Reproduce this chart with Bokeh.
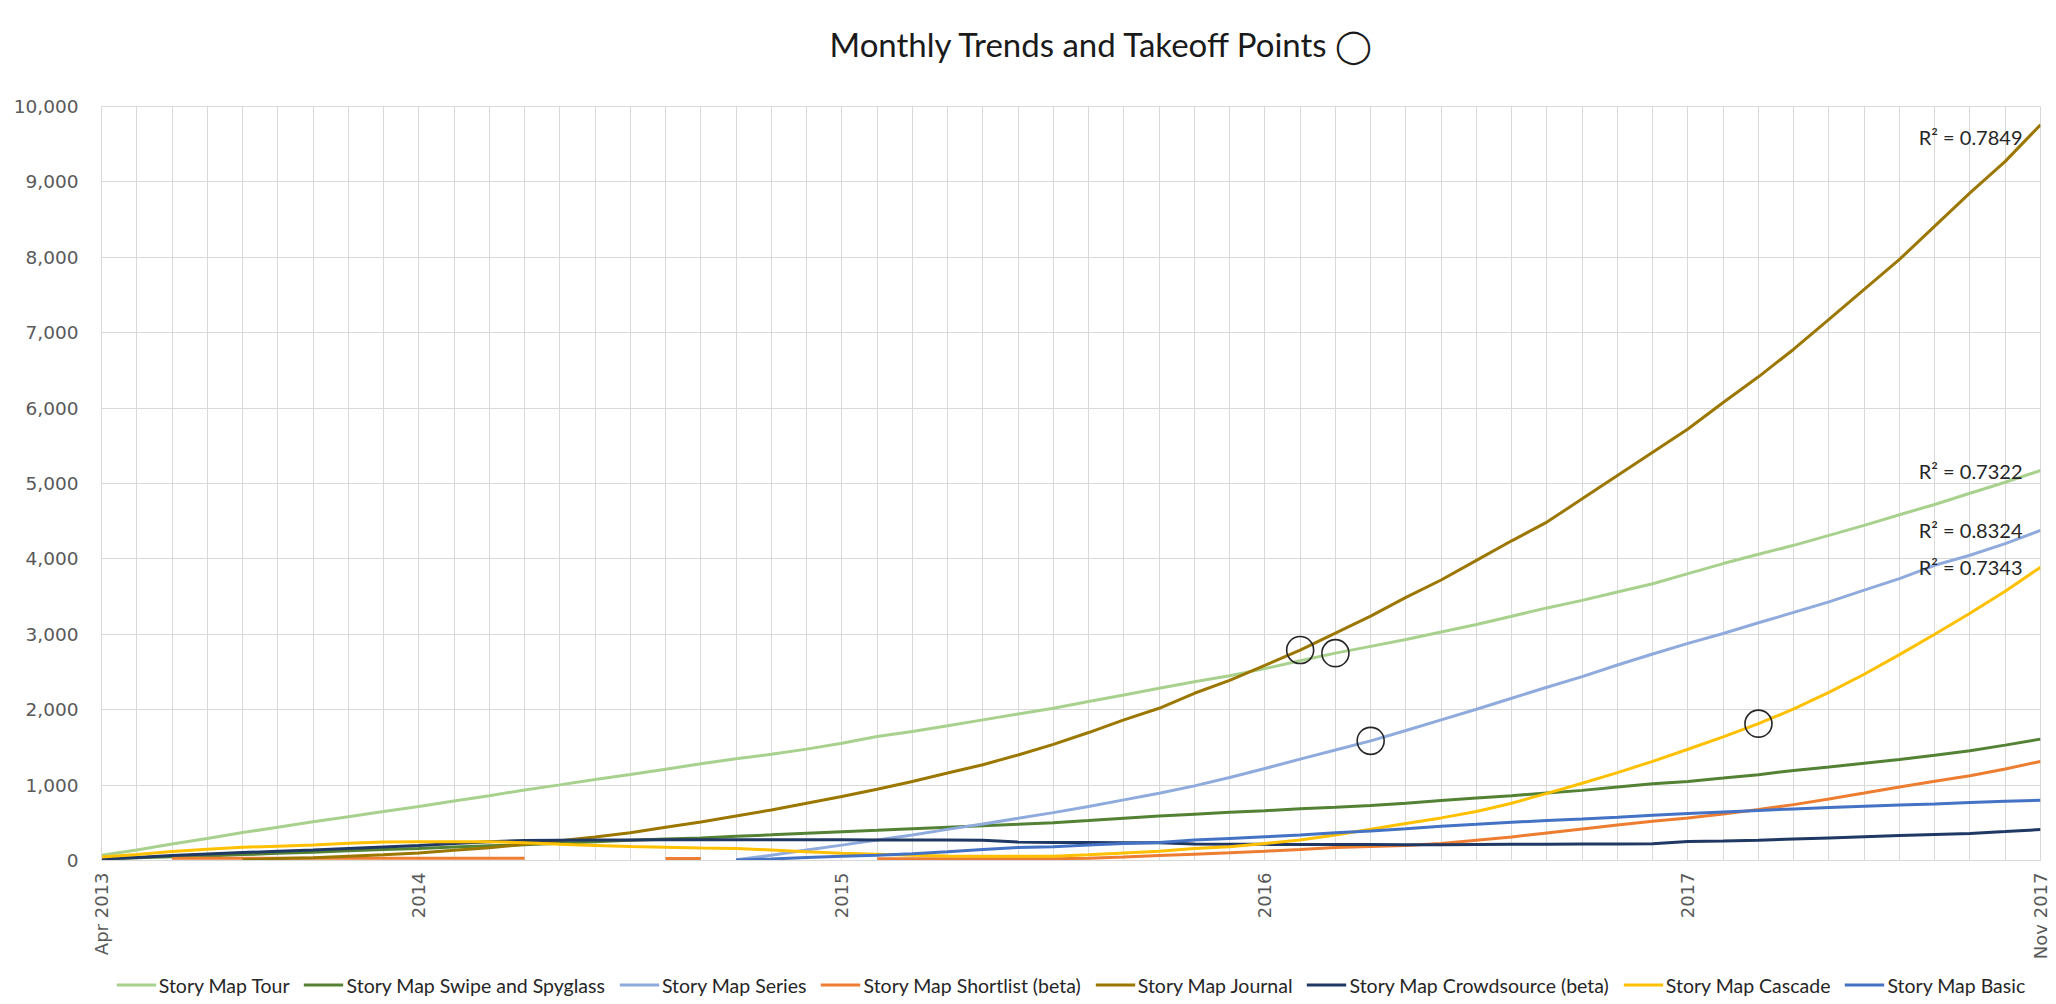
import math
import numpy as np
from bokeh.plotting import figure
from bokeh.layouts import column
from bokeh.models import Range1d, FixedTicker, NumeralTickFormatter, Legend, LegendItem, Title
from bokeh.core.properties import value
from bokeh.embed import file_html
from bokeh.resources import INLINE

# month index: 0 = Apr 2013 ... 55 = Nov 2017
months = list(range(56))
tick_months = [0, 9, 21, 33, 45, 55]
tick_labels = ["Apr 2013", "2014", "2015", "2016", "2017", "Nov 2017"]
y_ticks = [0, 1000, 2000, 3000, 4000, 5000, 6000, 7000, 8000, 9000, 10000]

tour = [70, 140, 220, 293, 370, 440, 515, 580, 650, 715,
        790, 860, 935, 1003, 1075, 1140, 1210, 1283, 1349, 1410,
        1477, 1556, 1644, 1710, 1786, 1865, 1944, 2019, 2108, 2196,
        2284, 2372, 2450, 2545, 2650, 2750, 2840, 2930, 3030, 3130,
        3240, 3350, 3450, 3560, 3670, 3805, 3938, 4061, 4180, 4312,
        4444, 4586, 4722, 4871, 5017, 5172]

swipe = [20, 35, 50, 60, 78, 95, 110, 128, 145, 160,
         178, 195, 210, 230, 250, 270, 285, 300, 320, 340,
         362, 382, 400, 420, 440, 460, 480, 502, 530, 560,
         590, 615, 640, 660, 685, 705, 730, 760, 795, 830,
         860, 895, 930, 974, 1018, 1049, 1093, 1138, 1195, 1240,
         1290, 1340, 1395, 1455, 1530, 1610]

series = [None, None, None, None, None, None, None, None, None, None,
          None, None, None, None, None, None, None, None, 10, 70,
          138, 204, 271, 337, 413, 484, 559, 635, 715, 804,
          892, 990, 1100, 1220, 1345, 1465, 1587, 1724, 1865, 2006,
          2152, 2297, 2438, 2593, 2738, 2879, 3011, 3153, 3290, 3430,
          3585, 3739, 3915, 4048, 4202, 4378]

shortlist = [None, None, 30, 30, 30, 30, 30, 30, 30, 30,
             30, 30, 30, None, None, None, 25, 25, None, None,
             None, None, 22, 22, 22, 22, 22, 22, 30, 45,
             65, 84, 102, 124, 147, 173, 186, 200, 225, 270,
             313, 366, 419, 472, 520, 564, 617, 675, 741, 816,
             895, 975, 1050, 1125, 1213, 1314]

journal = [None, None, None, None, 10, 25, 35, 55, 75, 100,
           135, 170, 215, 262, 312, 368, 440, 510, 590, 670,
           759, 848, 946, 1048, 1160, 1270, 1400, 1540, 1697, 1865,
           2019, 2218, 2390, 2588, 2791, 3016, 3241, 3490, 3720, 3980,
           4240, 4488, 4797, 5106, 5414, 5723, 6075, 6415, 6781, 7178,
           7575, 7972, 8413, 8854, 9272, 9758]

crowdsource = [20, 40, 65, 85, 105, 122, 140, 160, 180, 200,
               225, 250, 265, 270, 272, 273, 275, 275, 275, 275,
               275, 275, 273, 272, 272, 270, 244, 240, 238, 236,
               235, 218, 215, 214, 213, 212, 212, 210, 210, 212,
               214, 216, 218, 220, 222, 251, 258, 269, 285, 300,
               315, 331, 344, 357, 383, 410]

cascade = [45, 80, 120, 150, 175, 190, 205, 230, 245, 250,
           250, 250, 235, 215, 200, 185, 175, 165, 160, 140,
           115, 95, 84, 70, 60, 55, 55, 58, 75, 100,
           124, 160, 182, 226, 271, 337, 415, 490, 565, 650,
           760, 890, 1025, 1165, 1315, 1475, 1640, 1815, 2010, 2230,
           2470, 2730, 3000, 3280, 3570, 3890]

basic = [None, None, None, None, None, None, None, None, None, None,
         None, None, None, None, None, None, None, None, 5, 20,
         40, 58, 70, 90, 115, 146, 173, 182, 204, 226,
         240, 271, 293, 315, 337, 368, 391, 420, 454, 480,
         507, 530, 551, 575, 600, 622, 644, 664, 684, 702,
         719, 735, 750, 768, 785, 798]

series_names = ["Story Map Tour", "Story Map Swipe and Spyglass", "Story Map Series",
                "Story Map Shortlist (beta)", "Story Map Journal",
                "Story Map Crowdsource (beta)", "Story Map Cascade", "Story Map Basic"]
series_values = [tour, swipe, series, shortlist, journal, crowdsource, cascade, basic]
series_colors = ["#A9D18E", "#548235", "#8FAADC", "#ED7D31", "#9C7700",
                 "#203864", "#FFC000", "#4472C4"]

chart_title = "Monthly Trends and Takeoff Points \u25EF"

# takeoff points (circled)
takeoff_series = ["Story Map Journal", "Story Map Tour", "Story Map Series", "Story Map Cascade"]
takeoff_months = [34, 35, 36, 47]

# trendline R² labels
r2_series = ["Story Map Journal", "Story Map Tour", "Story Map Series", "Story Map Cascade"]
r2_values = ["0.7849", "0.7322", "0.8324", "0.7343"]
r2_baselines = ["top", "middle", "middle", "middle"]

data = {n: np.array(v, dtype=float) for n, v in zip(series_names, series_values)}

W = 2056

# ---------- main chart ----------
p = figure(width=W, height=965, title=None,
           x_range=Range1d(0, 55), y_range=Range1d(0, 10000),
           output_backend="svg", toolbar_location=None,
           min_border_left=101, min_border_right=16,
           min_border_top=105, min_border_bottom=105)

p.background_fill_color = "white"
p.border_fill_color = "white"
p.outline_line_color = "#D9D9D9"
p.outline_line_width = 1

# spacer next to the frame, then the real title stacked above it
p.add_layout(Title(text=" ", text_font_size="10px", standoff=8), "above")
p.add_layout(Title(text=chart_title, align="left", offset=728, standoff=43,
                   text_font="Lato", text_font_size="33px", text_font_style="normal",
                   text_color="#1a1a1a"), "above")

p.xaxis.ticker = FixedTicker(ticks=tick_months)
p.xaxis.major_label_overrides = {m: l for m, l in zip(tick_months, tick_labels)}
p.xaxis.major_label_orientation = math.pi / 2
p.xaxis.major_label_standoff = 12
p.xaxis.major_label_text_font_size = "18px"
p.xgrid.ticker = FixedTicker(ticks=months)

p.yaxis.ticker = FixedTicker(ticks=y_ticks)
p.yaxis.formatter = NumeralTickFormatter(format="0,0")
p.yaxis.major_label_standoff = 23
p.yaxis.major_label_text_font_size = "18.5px"

for ax in (p.xaxis[0], p.yaxis[0]):
    ax.axis_label = None
    ax.axis_line_color = "#D9D9D9"
    ax.major_tick_line_color = None
    ax.minor_tick_line_color = None
    ax.major_tick_out = 0
    ax.major_tick_in = 0
    ax.major_label_text_font = "DejaVu Sans"
    ax.major_label_text_color = "#595959"

p.xgrid.grid_line_color = "#D9D9D9"
p.ygrid.grid_line_color = "#D9D9D9"
p.xgrid.grid_line_width = 1
p.ygrid.grid_line_width = 1

for name, color in zip(series_names, series_colors):
    p.line(months, data[name], line_color=color, line_width=3)

# takeoff circles
tx = takeoff_months
ty = [data[s][m] for s, m in zip(takeoff_series, takeoff_months)]
p.scatter(tx, ty, marker="circle", size=27, fill_alpha=0,
          line_color="#262626", line_width=1.6)

# R² labels at trendline ends
lx = [months[-1]] * len(r2_series)
ly = [data[s][-1] for s in r2_series]
lt = ["R\u00B2 = " + v for v in r2_values]
for x, y, t, b in zip(lx, ly, lt, r2_baselines):
    p.text([x], [y], text=[t], text_align="right", text_baseline=b,
           x_offset=-18, text_font=value("Lato"), text_font_size="20px",
           text_color="#262626")

# ---------- legend strip (same series, drawn outside its visible range) ----------
pl = figure(width=W, height=39, x_range=Range1d(-20, -10), y_range=Range1d(-20, -10),
            output_backend="svg", toolbar_location=None,
            min_border_left=101, min_border_right=16, min_border_top=0, min_border_bottom=0,
            x_axis_location=None, y_axis_location=None)
pl.grid.visible = False
pl.outline_line_color = None
pl.background_fill_color = "white"
pl.border_fill_color = "white"

items = []
for name, color in zip(series_names, series_colors):
    r = pl.line(months, data[name], line_color=color, line_width=3)
    items.append(LegendItem(label=name, renderers=[r]))

legend = Legend(items=items, orientation="horizontal", location="center")
legend.label_text_font = "Lato"
legend.label_text_font_size = "19.5px"
legend.label_text_color = "#262626"
legend.glyph_width = 40
legend.glyph_height = 20
legend.label_standoff = 3
legend.spacing = 14
legend.padding = 0
legend.margin = 0
legend.border_line_color = None
legend.background_fill_alpha = 0
pl.add_layout(legend, "center")

layout = column(p, pl, spacing=0)

open("out.html", "w").write(file_html(layout, INLINE))
